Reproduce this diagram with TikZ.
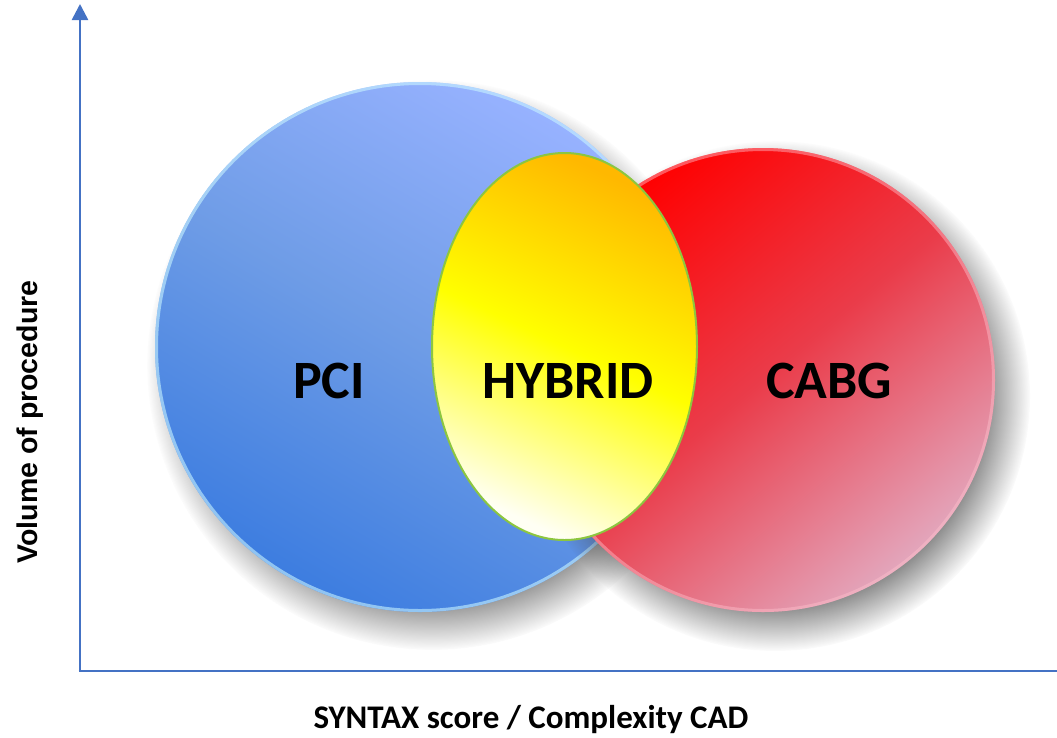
\documentclass[tikz,border=0pt]{standalone}
\usepackage{fontspec}
\setmainfont{Carlito}
\newfontfamily\arialfont{Liberation Sans}
\usetikzlibrary{arrows.meta, fadings}
\definecolor{axisblue}{HTML}{4472C4}
\definecolor{pcitop}{HTML}{97B2FF}
\definecolor{pcimid}{HTML}{6E9CE6}
\definecolor{pcibot}{HTML}{3D7DE0}
\definecolor{pcirim}{HTML}{C8F4FF}
\definecolor{cabgtop}{HTML}{FF0000}
\definecolor{cabgmid}{HTML}{EA3C4A}
\definecolor{cabgbot}{HTML}{E3A6BC}
\definecolor{cabgrim}{HTML}{FFC0CC}
\definecolor{hybtop}{HTML}{FFB800}
\definecolor{hybmid}{HTML}{FFFF00}
\definecolor{hybbot}{HTML}{FFFFF4}
\definecolor{hybline}{HTML}{8CC63F}

% soft edge for the drop shadows
\pgfdeclareradialshading{softshadowshade}{\pgfpointorigin}{color(0bp)=(pgftransparent!0); color(18bp)=(pgftransparent!0); color(25bp)=(pgftransparent!100); color(50bp)=(pgftransparent!100)}
\pgfdeclarefading{softshadow}{\pgfuseshading{softshadowshade}}

\begin{document}
\begin{tikzpicture}[
    x=1pt, y=-1pt,
    every node/.style={font=\bfseries},
    axis/.style={line width=2.6pt, axisblue, -{Triangle[length=16pt, width=16pt]}},
    shadowdisc/.style={fill=black!72, path fading=softshadow},
    pcifill/.style={top color=pcitop, bottom color=pcibot, middle color=pcimid, shading angle=-30},
    cabgfill/.style={top color=cabgtop, bottom color=cabgbot, middle color=cabgmid, shading angle=40},
    hybfill/.style={top color=hybtop, bottom color=hybbot, middle color=hybmid, shading angle=-25},
    bigword/.style={font=\fontsize{54}{60}\selectfont\bfseries}
]
\useasboundingbox (0,0) rectangle (1057,737);

\coordinate (origin) at (80,671);
\coordinate (ytop) at (80,4);
\coordinate (xend) at (1073,671);
\coordinate (pcic) at (420,347);
\coordinate (cabgc) at (763,380);
\coordinate (hybc) at (564.5,346.5);

% PCI disc
\fill[shadowdisc] ([shift={(12,18)}]pcic) circle (285);
\shade[pcifill] (pcic) circle (265);
\draw[pcirim, opacity=0.6, line width=3pt] (pcic) circle (263.5);

% CABG disc
\fill[shadowdisc] ([shift={(12,16)}]cabgc) circle (255);
\shade[cabgfill] (cabgc) circle (232);
\draw[cabgrim, opacity=0.45, line width=3pt] (cabgc) circle (230.5);

% HYBRID overlap
\shade[hybfill, draw=hybline, line width=2pt] (hybc) ellipse [x radius=132.5, y radius=193.5];

\node[bigword] (pci) at (329,381) {PCI};
\node[bigword] (hybrid) at (568,381) {HYBRID};
\node[bigword] (cabg) at (829,381) {CABG};

% axes
\draw[axis] ([yshift=1pt]origin) -- (ytop);
\draw[axis] ([xshift=-1.3pt]origin) -- (xend);

\node[font=\fontsize{33}{40}\selectfont\bfseries, anchor=base] (xlabel) at (531,728) {SYNTAX score / Complexity CAD};
\node[font=\arialfont\fontsize{28.5}{34}\selectfont\bfseries, rotate=90, anchor=base] (ylabel) at (37,422) {Volume of procedure};

\end{tikzpicture}
\end{document}
